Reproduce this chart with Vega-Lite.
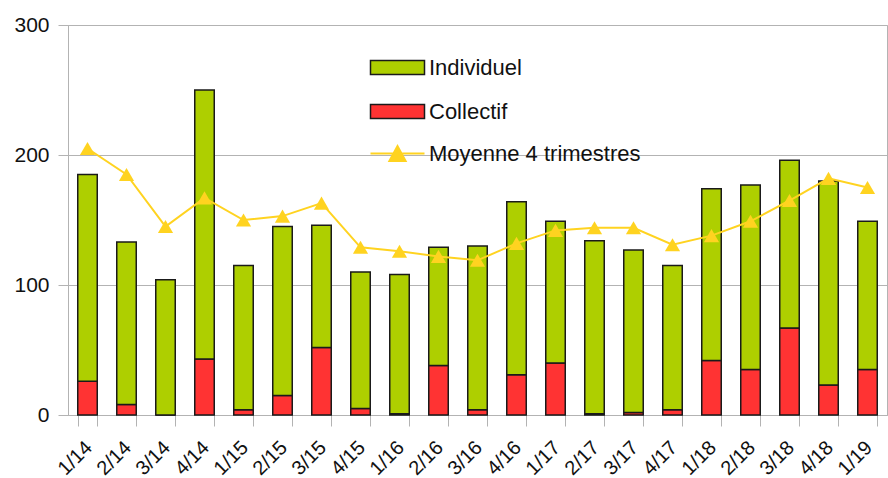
{
  "$schema": "https://vega.github.io/schema/vega-lite/v6.json",
  "width": 819,
  "height": 390,
  "autosize": {"type": "none"},
  "padding": {"left": 68, "top": 25, "right": 1, "bottom": 63},
  "background": "white",
  "config": {"view": {"stroke": "#b3b3b3", "strokeWidth": 1}, "font": "Liberation Sans"},
  "datasets": {
    "bars": [
      {"t": "1/14", "serie": "Collectif", "value": 26}, {"t": "1/14", "serie": "Individuel", "value": 159},
      {"t": "2/14", "serie": "Collectif", "value": 8}, {"t": "2/14", "serie": "Individuel", "value": 125},
      {"t": "3/14", "serie": "Collectif", "value": 0}, {"t": "3/14", "serie": "Individuel", "value": 104},
      {"t": "4/14", "serie": "Collectif", "value": 43}, {"t": "4/14", "serie": "Individuel", "value": 207},
      {"t": "1/15", "serie": "Collectif", "value": 4}, {"t": "1/15", "serie": "Individuel", "value": 111},
      {"t": "2/15", "serie": "Collectif", "value": 15}, {"t": "2/15", "serie": "Individuel", "value": 130},
      {"t": "3/15", "serie": "Collectif", "value": 52}, {"t": "3/15", "serie": "Individuel", "value": 94},
      {"t": "4/15", "serie": "Collectif", "value": 5}, {"t": "4/15", "serie": "Individuel", "value": 105},
      {"t": "1/16", "serie": "Collectif", "value": 1}, {"t": "1/16", "serie": "Individuel", "value": 107},
      {"t": "2/16", "serie": "Collectif", "value": 38}, {"t": "2/16", "serie": "Individuel", "value": 91},
      {"t": "3/16", "serie": "Collectif", "value": 4}, {"t": "3/16", "serie": "Individuel", "value": 126},
      {"t": "4/16", "serie": "Collectif", "value": 31}, {"t": "4/16", "serie": "Individuel", "value": 133},
      {"t": "1/17", "serie": "Collectif", "value": 40}, {"t": "1/17", "serie": "Individuel", "value": 109},
      {"t": "2/17", "serie": "Collectif", "value": 1}, {"t": "2/17", "serie": "Individuel", "value": 133},
      {"t": "3/17", "serie": "Collectif", "value": 2}, {"t": "3/17", "serie": "Individuel", "value": 125},
      {"t": "4/17", "serie": "Collectif", "value": 4}, {"t": "4/17", "serie": "Individuel", "value": 111},
      {"t": "1/18", "serie": "Collectif", "value": 42}, {"t": "1/18", "serie": "Individuel", "value": 132},
      {"t": "2/18", "serie": "Collectif", "value": 35}, {"t": "2/18", "serie": "Individuel", "value": 142},
      {"t": "3/18", "serie": "Collectif", "value": 67}, {"t": "3/18", "serie": "Individuel", "value": 129},
      {"t": "4/18", "serie": "Collectif", "value": 23}, {"t": "4/18", "serie": "Individuel", "value": 157},
      {"t": "1/19", "serie": "Collectif", "value": 35}, {"t": "1/19", "serie": "Individuel", "value": 114}
    ],
    "avg": [
      {"t": "1/14", "serie": "Moyenne 4 trimestres", "value": 205},
      {"t": "2/14", "serie": "Moyenne 4 trimestres", "value": 185},
      {"t": "3/14", "serie": "Moyenne 4 trimestres", "value": 145},
      {"t": "4/14", "serie": "Moyenne 4 trimestres", "value": 167},
      {"t": "1/15", "serie": "Moyenne 4 trimestres", "value": 150},
      {"t": "2/15", "serie": "Moyenne 4 trimestres", "value": 153},
      {"t": "3/15", "serie": "Moyenne 4 trimestres", "value": 163},
      {"t": "4/15", "serie": "Moyenne 4 trimestres", "value": 129},
      {"t": "1/16", "serie": "Moyenne 4 trimestres", "value": 126},
      {"t": "2/16", "serie": "Moyenne 4 trimestres", "value": 122},
      {"t": "3/16", "serie": "Moyenne 4 trimestres", "value": 119},
      {"t": "4/16", "serie": "Moyenne 4 trimestres", "value": 132},
      {"t": "1/17", "serie": "Moyenne 4 trimestres", "value": 142},
      {"t": "2/17", "serie": "Moyenne 4 trimestres", "value": 144},
      {"t": "3/17", "serie": "Moyenne 4 trimestres", "value": 144},
      {"t": "4/17", "serie": "Moyenne 4 trimestres", "value": 131},
      {"t": "1/18", "serie": "Moyenne 4 trimestres", "value": 138},
      {"t": "2/18", "serie": "Moyenne 4 trimestres", "value": 149},
      {"t": "3/18", "serie": "Moyenne 4 trimestres", "value": 165},
      {"t": "4/18", "serie": "Moyenne 4 trimestres", "value": 182},
      {"t": "1/19", "serie": "Moyenne 4 trimestres", "value": 175}
    ]
  },
  "encoding": {
    "x": {
      "field": "t", "type": "nominal", "sort": null,
      "scale": {"paddingInner": 0.5, "paddingOuter": 0.25},
      "axis": {
        "title": null, "labelAngle": -45, "labelFontSize": 20, "labelColor": "#111111",
        "labelFont": "Liberation Sans", "tickBand": "extent", "tickSize": 11,
        "tickColor": "#b3b3b3", "domainColor": "#b3b3b3", "labelPadding": 11, "labelOffset": -6, "grid": false
      }
    },
    "y": {
      "field": "value", "type": "quantitative",
      "scale": {"domain": [0, 300], "nice": false},
      "axis": {
        "title": null, "values": [0, 100, 200, 300], "grid": true, "gridColor": "#b3b3b3",
        "domainColor": "#b3b3b3", "tickColor": "#b3b3b3", "tickSize": 10,
        "labelFontSize": 21, "labelColor": "#111111", "labelFont": "Liberation Sans", "labelPadding": 9
      }
    }
  },
  "layer": [
    {
      "data": {"name": "bars"},
      "mark": {"type": "bar", "stroke": "#1a1a1a", "strokeWidth": 1.5},
      "encoding": {
        "y": {"field": "value", "type": "quantitative", "stack": "zero"},
        "color": {
          "field": "serie", "type": "nominal",
          "scale": {"domain": ["Individuel", "Collectif"], "range": ["#aecf00", "#ff3333"]},
          "legend": {
            "orient": "none", "legendX": 315, "legendY": 28, "direction": "vertical", "title": null,
            "symbolType": "M-2,-0.52H2V0.52H-2Z", "symbolSize": 729,
            "symbolStrokeColor": "#1a1a1a", "symbolStrokeWidth": 1.5, "symbolOpacity": 1,
            "labelFont": "Liberation Sans", "labelFontSize": 22, "labelColor": "#111111",
            "labelOffset": 17, "rowPadding": 18, "padding": 0, "labelLimit": 0
          }
        },
        "order": {"field": "serie", "sort": "ascending"}
      }
    },
    {
      "data": {"name": "avg"},
      "mark": {"type": "line", "strokeWidth": 2},
      "encoding": {
        "stroke": {
          "field": "serie", "type": "nominal",
          "scale": {"range": ["#ffd320"]},
          "legend": {
            "orient": "none", "legendX": 315, "legendY": 114, "title": null,
            "symbolType": "M-2,0H2M-0.6,0.55L0,-0.55L0.6,0.55Z", "symbolSize": 729,
            "symbolStrokeWidth": 2, "symbolFillColor": "#ffd320", "symbolStrokeColor": "#ffd320",
            "labelFont": "Liberation Sans", "labelFontSize": 22, "labelColor": "#111111",
            "labelOffset": 17, "padding": 0, "labelLimit": 0
          }
        }
      }
    },
    {
      "data": {"name": "avg"},
      "mark": {"type": "point", "shape": "triangle-up", "filled": true, "size": 230, "color": "#ffd320", "opacity": 1}
    }
  ]
}
